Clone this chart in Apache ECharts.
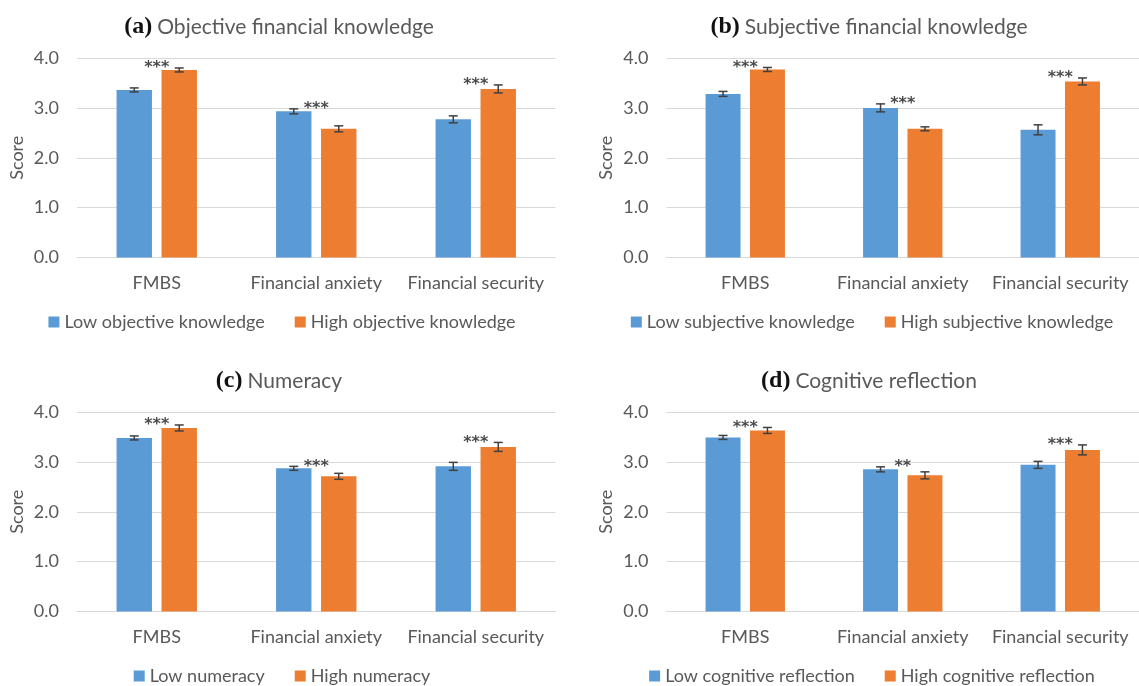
<!DOCTYPE html>
<html><head><meta charset="utf-8">
<script src="https://cdn.jsdelivr.net/npm/echarts@6/dist/echarts.min.js"></script>
<style>html,body{margin:0;padding:0;background:#fff}#c{width:1139px;height:686px}</style>
</head><body><div id="c"></div>
<script>
// ---------- data ----------
const categories = ['FMBS', 'Financial anxiety', 'Financial security'];
const yTicks = [0, 1, 2, 3, 4];

const titleLetters = ['(a)', '(b)', '(c)', '(d)'];
const titleTexts = ['Objective financial knowledge', 'Subjective financial knowledge', 'Numeracy', 'Cognitive reflection'];
const lowNames = ['Low objective knowledge', 'Low subjective knowledge', 'Low numeracy', 'Low cognitive reflection'];
const highNames = ['High objective knowledge', 'High subjective knowledge', 'High numeracy', 'High cognitive reflection'];

const lowA = [3.36, 2.93, 2.77];
const highA = [3.76, 2.58, 3.38];
const lowErrA = [0.04, 0.05, 0.07];
const highErrA = [0.04, 0.06, 0.08];
const sigA = ['***', '***', '***'];

const lowB = [3.28, 3.00, 2.56];
const highB = [3.77, 2.58, 3.53];
const lowErrB = [0.05, 0.08, 0.10];
const highErrB = [0.04, 0.04, 0.07];
const sigB = ['***', '***', '***'];

const lowC = [3.48, 2.87, 2.91];
const highC = [3.68, 2.71, 3.30];
const lowErrC = [0.04, 0.04, 0.08];
const highErrC = [0.06, 0.06, 0.09];
const sigC = ['***', '***', '***'];

const lowD = [3.49, 2.85, 2.94];
const highD = [3.63, 2.73, 3.24];
const lowErrD = [0.04, 0.05, 0.07];
const highErrD = [0.06, 0.07, 0.10];
const sigD = ['***', '**', '***'];

// ---------- styling / layout ----------
const FONT = 'Lato';
const GRAY = '#595959';
const GRID_C = '#D9D9D9';
const BLUE = '#5B9BD5';
const ORANGE = '#ED7D31';
const BAR_W = 0.222;
const BAR_GAP = 0.27;

const panels = [
  {low: lowA, high: highA, le: lowErrA, he: highErrA, sig: sigA, left: 77, top: 58, titleX: 274, legendX: 282, legendY: 313, titleY: 10},
  {low: lowB, high: highB, le: lowErrB, he: highErrB, sig: sigB, left: 666.5, top: 58, titleX: 864, legendX: 872, legendY: 313, titleY: 10},
  {low: lowC, high: highC, le: lowErrC, he: highErrC, sig: sigC, left: 77, top: 412, titleX: 274, legendX: 282, legendY: 667, titleY: 364},
  {low: lowD, high: highD, le: lowErrD, he: highErrD, sig: sigD, left: 666.5, top: 412, titleX: 864, legendX: 872, legendY: 667, titleY: 364}
];

const mctx = document.createElement('canvas').getContext('2d');
function legendWidth(names) {
  mctx.font = '18px ' + FONT;
  return names.reduce((s, n) => s + 11 + 5 + mctx.measureText(n).width, 0) + 30 * (names.length - 1);
}

function errRender(side) {
  return function (params, api) {
    const x = api.value(0), v = api.value(1), e = api.value(2);
    const top = api.coord([x, v + e]);
    const bot = api.coord([x, v - e]);
    const band = api.size([1, 0])[0];
    const bw = band * BAR_W;
    const cx = top[0] + side * (bw + bw * BAR_GAP) / 2;
    const st = {stroke: '#404040', lineWidth: 1.5};
    return {type: 'group', children: [
      {type: 'line', shape: {x1: cx, y1: top[1], x2: cx, y2: bot[1]}, style: st},
      {type: 'line', shape: {x1: cx - 4.5, y1: top[1], x2: cx + 4.5, y2: top[1]}, style: st},
      {type: 'line', shape: {x1: cx - 4.5, y1: bot[1], x2: cx + 4.5, y2: bot[1]}, style: st}
    ]};
  };
}

const option = {animation: false, title: [], legend: [], grid: [], xAxis: [], yAxis: [], series: []};

panels.forEach((p, k) => {
  option.title.push({
    text: '{b|' + titleLetters[k] + '} {t|' + titleTexts[k] + '}',
    left: p.titleX, top: p.titleY, textAlign: 'center',
    textStyle: {fontWeight: 'normal', rich: {
      b: {fontFamily: 'Liberation Serif', fontWeight: 'bold', fontSize: 24, color: '#111'},
      t: {fontFamily: FONT, fontWeight: 'normal', fontSize: 21, color: GRAY}
    }}
  });
  const names = [lowNames[k], highNames[k]];
  option.legend.push({
    data: names, left: p.legendX - legendWidth(names) / 2, top: p.legendY,
    padding: 0, itemGap: 30, itemWidth: 11, itemHeight: 11, icon: 'rect',
    textStyle: {fontFamily: FONT, fontSize: 18, color: GRAY}
  });
  option.grid.push({left: p.left, top: p.top, width: 478.5, height: 199.5});
  option.xAxis.push({
    type: 'category', gridIndex: k, data: categories,
    axisLine: {lineStyle: {color: GRID_C, width: 1}}, axisTick: {show: false},
    axisLabel: {interval: 0, fontFamily: FONT, fontSize: 18, color: GRAY, margin: 17}
  });
  option.yAxis.push({
    type: 'value', gridIndex: k, min: yTicks[0], max: yTicks[yTicks.length - 1], interval: 1,
    name: 'Score', nameLocation: 'middle', nameGap: 51,
    nameTextStyle: {fontFamily: FONT, fontSize: 18, color: GRAY},
    axisLine: {show: false}, axisTick: {show: false},
    axisLabel: {fontFamily: FONT, fontSize: 18, color: GRAY, margin: 18, formatter: v => v.toFixed(1)},
    splitLine: {lineStyle: {color: GRID_C, width: 1}}
  });
  option.series.push(
    {name: lowNames[k], type: 'bar', xAxisIndex: k, yAxisIndex: k, data: p.low,
     barWidth: (BAR_W * 100) + '%', barGap: (BAR_GAP * 100) + '%', itemStyle: {color: BLUE}},
    {name: highNames[k], type: 'bar', xAxisIndex: k, yAxisIndex: k, data: p.high,
     barWidth: (BAR_W * 100) + '%', barGap: (BAR_GAP * 100) + '%', itemStyle: {color: ORANGE}},
    {type: 'custom', xAxisIndex: k, yAxisIndex: k, z: 5, silent: true,
     renderItem: errRender(-1), data: p.low.map((v, i) => [i, v, p.le[i]])},
    {type: 'custom', xAxisIndex: k, yAxisIndex: k, z: 5, silent: true,
     renderItem: errRender(1), data: p.high.map((v, i) => [i, v, p.he[i]])},
    {type: 'scatter', xAxisIndex: k, yAxisIndex: k, z: 6, silent: true, symbolSize: 1,
     itemStyle: {color: 'rgba(0,0,0,0)'},
     data: categories.map((c, i) => [i, Math.max(p.low[i] + p.le[i], p.high[i] + p.he[i])]),
     label: {show: true, position: 'inside', formatter: q => p.sig[q.dataIndex],
             fontFamily: 'DejaVu Sans', fontWeight: 'bold', fontSize: 16, color: '#1a1a1a'}}
  );
});

const chart = echarts.init(document.getElementById('c'), null, {renderer: 'canvas'});
chart.setOption(option);
</script></body></html>
